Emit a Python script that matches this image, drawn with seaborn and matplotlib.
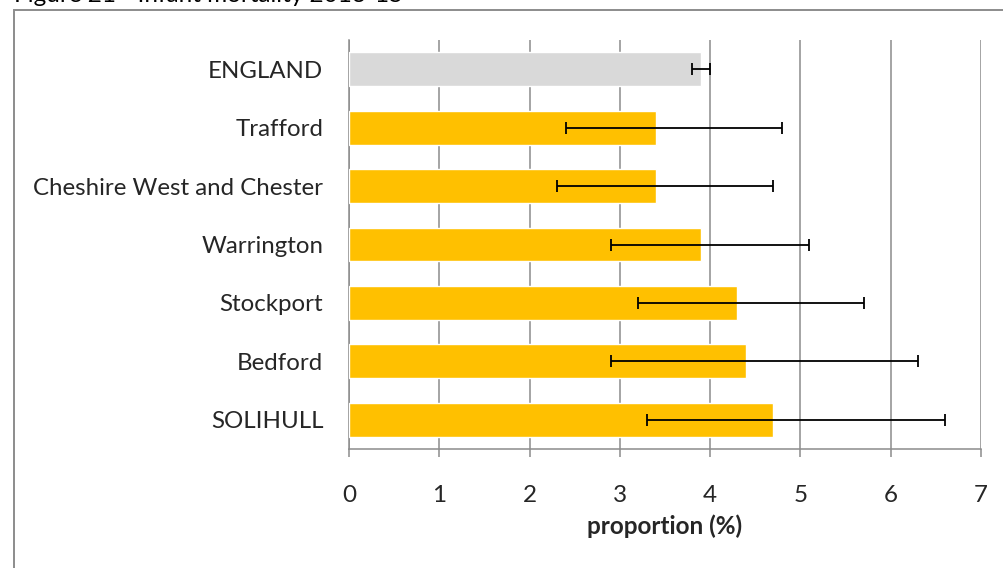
import matplotlib
matplotlib.use("Agg")
import matplotlib.pyplot as plt
import matplotlib.patches as mpatches
import seaborn as sns
import pandas as pd

categories = ["ENGLAND", "Trafford", "Cheshire West and Chester", "Warrington",
              "Stockport", "Bedford", "SOLIHULL"]
values = [3.9, 3.4, 3.4, 3.9, 4.3, 4.4, 4.7]
lower_ci = [3.8, 2.4, 2.3, 2.9, 3.2, 2.9, 3.3]
upper_ci = [4.0, 4.8, 4.7, 5.1, 5.7, 6.3, 6.6]
bar_colors = ["#D9D9D9", "#FFC000", "#FFC000", "#FFC000", "#FFC000", "#FFC000", "#FFC000"]
x_ticks = [0, 1, 2, 3, 4, 5, 6, 7]
title = "Figure 21 - Infant mortality 2013-15"
x_label = "proportion (%)"

sns.set_theme(style="white")
plt.rcParams["font.family"] = ["Lato", "DejaVu Sans"]

df = pd.DataFrame({"area": categories, "value": values})

fig = plt.figure(figsize=(10.04, 5.68), dpi=100)
ax = fig.add_axes([349 / 1004, 1 - 449 / 568, (981 - 349) / 1004, (449 - 40) / 568])

sns.barplot(data=df, x="value", y="area", hue="area", order=categories,
            hue_order=categories, palette=bar_colors, legend=False,
            width=0.58, ax=ax, saturation=1, zorder=3)

xerr_lo = [v - l for v, l in zip(values, lower_ci)]
xerr_hi = [u - v for v, u in zip(values, upper_ci)]
ax.errorbar(values, range(len(categories)), xerr=[xerr_lo, xerr_hi], fmt="none",
            ecolor="black", elinewidth=1.3, capsize=4, capthick=1.3, zorder=4)

ax.set_xlim(0, 7)
ax.set_ylim(len(categories) - 0.5, -0.5)
ax.set_xticks(x_ticks)
ax.set_xticklabels([str(t) for t in x_ticks], fontsize=17.5)
ax.tick_params(axis="y", length=0, labelsize=17.3, pad=18.5)
ax.tick_params(axis="x", direction="out", length=6, width=1.1, color="#8C8C8C",
               pad=20, bottom=True)
ax.set_ylabel("")
ax.set_xlabel(x_label, fontsize=17.5, fontweight="bold", labelpad=6)

ax.grid(axis="x", color="#8C8C8C", linewidth=1.1, zorder=0)
ax.grid(axis="y", visible=False)
ax.set_axisbelow(True)
for s in ["top", "right"]:
    ax.spines[s].set_visible(False)
for s in ["left", "bottom"]:
    ax.spines[s].set_color("#8C8C8C")
    ax.spines[s].set_linewidth(1.1)

frame = mpatches.Rectangle((14 / 1004, -0.05), 1.1, 1 - 10 / 568 + 0.05,
                           transform=fig.transFigure, fill=False,
                           edgecolor="#8C8C8C", linewidth=1.4, clip_on=False)
fig.patches.append(frame)

fig.text(14 / 1004, 1 - 2 / 568, title, fontsize=17.5, ha="left", va="baseline",
         color="black")

fig.savefig("out.png", dpi=100)
